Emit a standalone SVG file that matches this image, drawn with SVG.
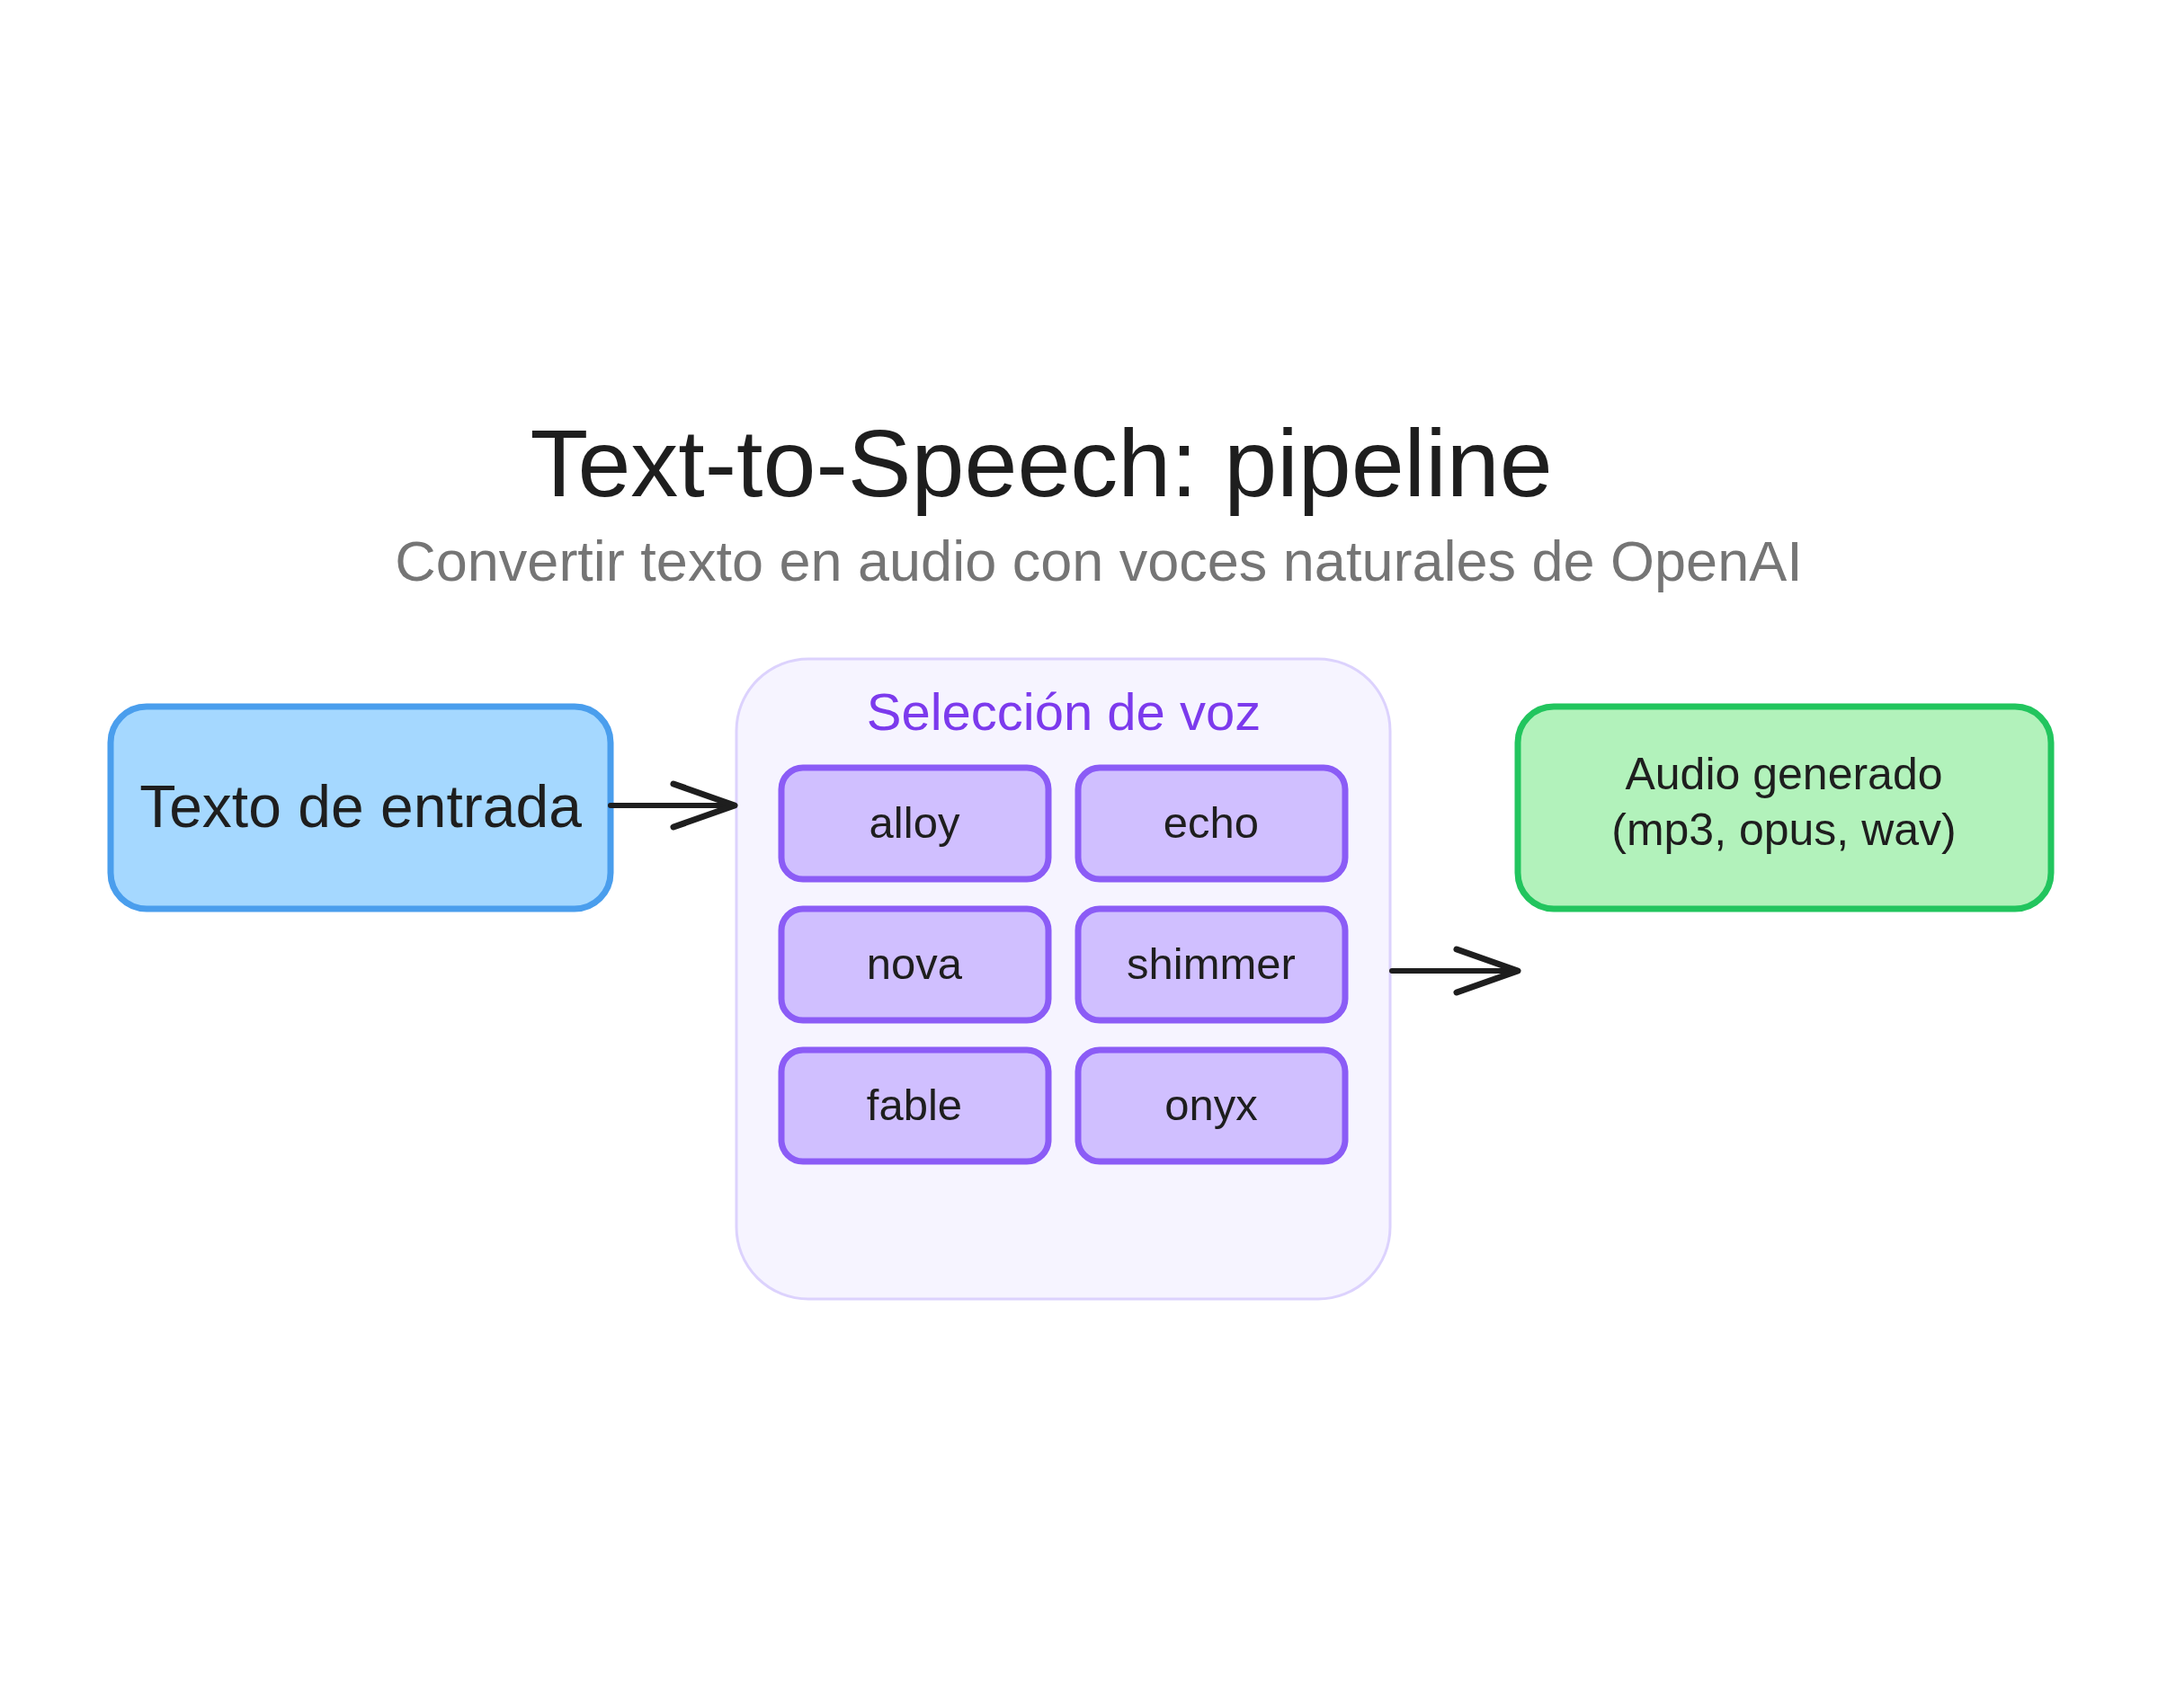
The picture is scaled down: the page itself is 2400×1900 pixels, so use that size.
<svg xmlns="http://www.w3.org/2000/svg" width="2400" height="1900" viewBox="0 0 2400 1900">
  <style>
    text { font-family: "Liberation Sans", "Noto Sans", sans-serif; text-anchor: middle; }
    .title { font-size: 106px; fill: #1e1e1e; }
    .sub { font-size: 63px; fill: #757575; }
    .lbl { font-size: 66px; fill: #1e1e1e; }
    .voice rect { fill: #d0bfff; stroke: #8b5cf6; stroke-width: 7; }
    .voice text { font-size: 49px; fill: #1e1e1e; }
    .conn { stroke: #1e1e1e; stroke-width: 6; fill: none; stroke-linecap: round; stroke-linejoin: round; }
  </style>
  <defs>
    <marker id="arrow" markerUnits="userSpaceOnUse" markerWidth="90" markerHeight="70" refX="72" refY="30" orient="auto">
      <path d="M4,6 L72,30 L4,54" fill="none" stroke="#1e1e1e" stroke-width="7" stroke-linecap="round" stroke-linejoin="round"/>
    </marker>
  </defs>
  <rect width="2400" height="1900" fill="#ffffff"/>

  <g id="title">
    <text class="title" x="1158" y="552">Text-to-Speech: pipeline</text>
    <text class="sub" x="1222" y="646">Convertir texto en audio con voces naturales de OpenAI</text>
  </g>

  <g id="input">
    <rect x="123" y="786" width="556" height="225" rx="40" fill="#a5d8ff" stroke="#4a9eed" stroke-width="7"/>
    <text class="lbl" x="401" y="920">Texto de entrada</text>
  </g>

  <g id="voices">
    <rect x="819" y="733" width="727" height="712" rx="80" fill="#f6f4ff" stroke="#dcd2fd" stroke-width="3"/>
    <text x="1183" y="812" font-size="58" fill="#7c3aed">Selección de voz</text>
  </g>

  <g id="alloy" class="voice">
    <rect x="869" y="854" width="297" height="124" rx="24"/>
    <text x="1017" y="932">alloy</text>
  </g>
  <g id="echo" class="voice">
    <rect x="1199" y="854" width="297" height="124" rx="24"/>
    <text x="1347" y="932">echo</text>
  </g>
  <g id="nova" class="voice">
    <rect x="869" y="1011" width="297" height="124" rx="24"/>
    <text x="1017" y="1089">nova</text>
  </g>
  <g id="shimmer" class="voice">
    <rect x="1199" y="1011" width="297" height="124" rx="24"/>
    <text x="1347" y="1089">shimmer</text>
  </g>
  <g id="fable" class="voice">
    <rect x="869" y="1168" width="297" height="124" rx="24"/>
    <text x="1017" y="1246">fable</text>
  </g>
  <g id="onyx" class="voice">
    <rect x="1199" y="1168" width="297" height="124" rx="24"/>
    <text x="1347" y="1246">onyx</text>
  </g>

  <g id="output">
    <rect x="1688" y="786" width="593" height="225" rx="40" fill="#b2f2bb" stroke="#22c55e" stroke-width="7"/>
    <text x="1984" y="878" font-size="50" fill="#1e1e1e">Audio generado</text>
    <text x="1984" y="940" font-size="50" fill="#1e1e1e">(mp3, opus, wav)</text>
  </g>

  <g id="connectors">
    <path class="conn" d="M679,896 L817,896" marker-end="url(#arrow)"/>
    <path class="conn" d="M1548,1080 L1688,1080" marker-end="url(#arrow)"/>
  </g>
</svg>
